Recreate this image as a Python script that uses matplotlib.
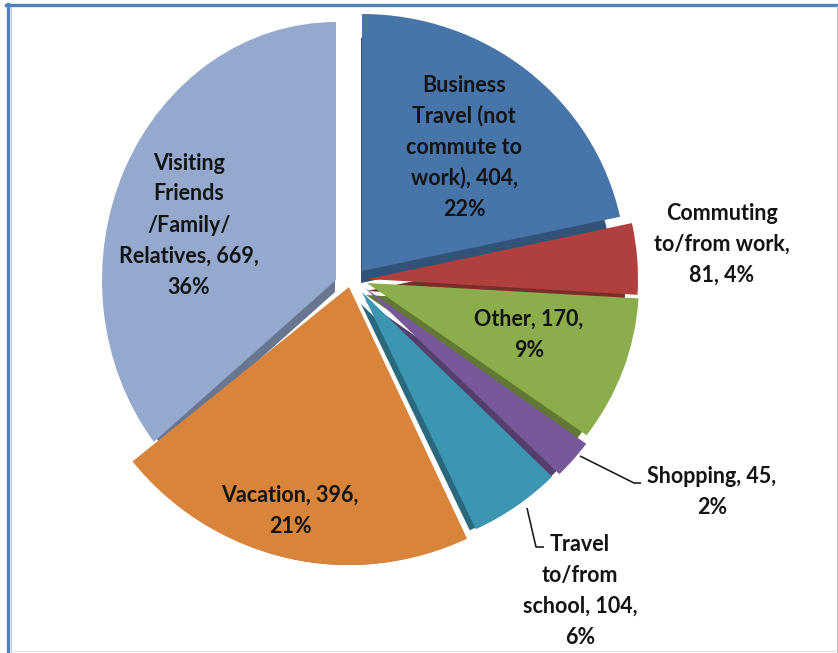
import matplotlib
matplotlib.use('Agg')
import matplotlib.pyplot as plt
from matplotlib.transforms import Affine2D
from matplotlib.colors import to_rgb

# Trip purpose survey, clockwise from 12 o'clock
purposes = ['Business Travel', 'Commuting', 'Other', 'Shopping',
            'Travel to/from school', 'Vacation', 'Visiting Friends/Family/Relatives']
trips = [404, 81, 170, 45, 104, 396, 669]
label_fmt = [
    'Business\nTravel (not\ncommute to\nwork), {v},\n{p}%',
    'Commuting\nto/from work,\n{v}, {p}%',
    'Other, {v},\n{p}%',
    'Shopping, {v},\n{p}%',
    'Travel\nto/from\nschool, {v},\n{p}%',
    'Vacation, {v},\n{p}%',
    'Visiting\nFriends\n/Family/\nRelatives, {v},\n{p}%',
]
colors = ['#4775AA', '#B0403D', '#8CAD4B', '#77599A', '#3C96B2', '#D8843B', '#95A9CF']

W, H = 838, 653

# slice placement in pixels (x, y from top) and radii (rx, ry) for the tilted look
centers = [(362, 271), (368, 279), (367, 283), (365, 288), (362, 292), (349, 287), (336, 280)]
radii = [(264, 257), (270, 265), (272, 258), (274, 264), (268, 262), (278, 278), (234, 258)]
label_pos = [(464, 147), (722, 244), (529, 335), (712, 492), (580, 591), (290, 511), (189, 225)]
line_pitch = 31
depth = 12  # slice thickness in pixels

# leader lines for the two small outer labels
leaders = {3: [(580, 456), (634, 483), (641, 483)],
           4: [(527, 508), (536, 547), (544, 547)]}

fig = plt.figure(figsize=(W / 100, H / 100), dpi=100)
ax = fig.add_axes([0, 0, 1, 1])

total = sum(trips)
shade = [tuple(c * 0.7 for c in to_rgb(col)) for col in colors]

sides, _ = ax.pie(trips, colors=shade, startangle=90, counterclock=False,
                  radius=1, wedgeprops=dict(linewidth=0))
tops, _ = ax.pie(trips, colors=colors, startangle=90, counterclock=False,
                 radius=1, wedgeprops=dict(linewidth=0))

for side, top, (cx, cy), (rx, ry) in zip(sides, tops, centers, radii):
    top.set_transform(Affine2D().scale(rx, ry).translate(cx, H - cy) + ax.transData)
    # the side face sits below the top and stays inside its rim
    side.set_transform(Affine2D().scale(rx - depth, ry - depth)
                       .translate(cx - 1, H - cy - depth) + ax.transData)
    side.set_zorder(1)
    top.set_zorder(2)

# labels, one text per line so the pitch stays even
for i, (fmt, v) in enumerate(zip(label_fmt, trips)):
    pct = round(v / total * 100)
    lines = fmt.format(v=v, p=pct).split('\n')
    x, y = label_pos[i]
    n = len(lines)
    for k, line in enumerate(lines):
        ly = y + (k - (n - 1) / 2) * line_pitch
        ax.text(x, H - ly, line, ha='center', va='center', fontsize=15.5,
                fontweight='bold', family=['Lato', 'DejaVu Sans'],
                color='#141414', zorder=5)

for i, pts in leaders.items():
    xs = [p[0] for p in pts]
    ys = [H - p[1] for p in pts]
    ax.plot(xs, ys, color='#202020', lw=1.2, zorder=4, solid_capstyle='butt')

# chart frame
ax.plot([6, W], [H - 5, H - 5], color='#4F81BD', lw=2.4, zorder=6)
ax.plot([8, 8], [0, H - 4], color='#4F81BD', lw=2.4, zorder=6)
ax.plot([11, 11], [0, H - 7], color='#C8C8C8', lw=0.8, zorder=6)
ax.plot([W - 1.5, W - 1.5], [0, H - 6], color='#C0C0C0', lw=0.8, zorder=6)
ax.plot([11, W], [2, 2], color='#E2E2E2', lw=0.8, zorder=6)

ax.set_xlim(0, W)
ax.set_ylim(0, H)
ax.set_aspect('auto')
ax.axis('off')

fig.savefig('out.png', dpi=100)
